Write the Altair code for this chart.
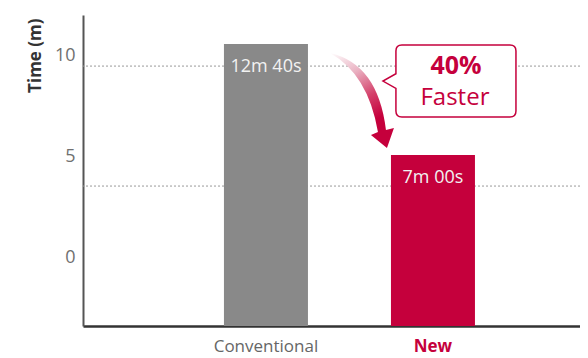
import altair as alt
import pandas as pd

categories = ["Conventional", "New"]
bar_tops = [10.6, 5.1]
bar_labels = ["12m 40s", "7m 00s"]
bar_colors = ["#898989", "#c5003c"]
y_ticks = [0, 5, 10]
y_domain = [-3.37, 12.03]
grid_values = [9.5, 3.56]
callout_texts = ["40%", "Faster"]
callout_text_y = [9.5, 7.92]
arrow_y = [7.82]
callout_box_y = [8.76]

FONT = "Open Sans"
RED = "#c5003c"

ARROW_PATH = ("M -0.6 -0.94 Q 0.36 -0.72 0.52 0.6 L 0.68 0.56 L 0.54 0.96 "
              "L 0.22 0.7 L 0.36 0.64 Q 0.16 -0.52 -0.6 -0.94 Z")
BOX_PATH = ("M -0.715 -0.541 L 0.91 -0.541 Q 1 -0.541 1 -0.451 L 1 0.451 "
            "Q 1 0.541 0.91 0.541 L -0.715 0.541 Q -0.805 0.541 -0.805 0.451 "
            "L -0.805 0.11 L -1 0 L -0.805 -0.11 L -0.805 -0.451 "
            "Q -0.805 -0.541 -0.715 -0.541 Z")

bars_df = pd.DataFrame({"cat": categories, "top": bar_tops, "label": bar_labels})
bars_df["base"] = y_domain[0]
grid_df = pd.DataFrame({"cat": ["Conventional"] * len(grid_values), "v": grid_values})
arrow_df = pd.DataFrame({"cat": ["Conventional"], "y": arrow_y})
box_df = pd.DataFrame({"cat": ["New"], "y": callout_box_y})
ct1 = pd.DataFrame({"cat": ["New"], "y": [callout_text_y[0]], "t": [callout_texts[0]]})
ct2 = pd.DataFrame({"cat": ["New"], "y": [callout_text_y[1]], "t": [callout_texts[1]]})

xscale = alt.Scale(domain=categories, paddingInner=0.497, paddingOuter=0.7365, align=0.573)
yscale = alt.Scale(domain=y_domain, nice=False, zero=False)

x_axis = alt.Axis(
    title=None, domain=True, domainColor="#333333", domainWidth=2.5, ticks=False,
    grid=False, labelPadding=12, labelFontSize=17, labelFont=FONT, labelAngle=0,
    labelColor={"condition": {"test": "datum.value == 'New'", "value": RED}, "value": "#666666"},
    labelFontWeight={"condition": {"test": "datum.value == 'New'", "value": "bold"}, "value": "normal"},
)
y_axis = alt.Axis(
    values=y_ticks, title="Time (m)", grid=False, ticks=False,
    domainColor="#555555", domainWidth=2, labelFont=FONT, labelFontSize=18,
    labelColor="#707070", labelPadding=8, titleFont=FONT, titleFontSize=17,
    titleFontWeight="bold", titleColor="#333333", titleAngle=270, titleX=-48,
    titleY=3, titleAlign="right", titleBaseline="middle",
)


def X():
    return alt.X("cat:N", scale=xscale, axis=x_axis, sort=categories)


def Y(field):
    return alt.Y(field, scale=yscale, axis=y_axis)


grid = alt.Chart(grid_df).mark_rule(color="#9a9a9a", strokeDash=[2, 2], strokeWidth=1).encode(
    y=Y("v:Q")
)

bars = alt.Chart(bars_df).mark_bar(size=84).encode(
    x=X(),
    y=Y("top:Q"),
    y2="base:Q",
    color=alt.Color("cat:N", scale=alt.Scale(domain=categories, range=bar_colors), legend=None),
)

bar_text = alt.Chart(bars_df).mark_text(dy=23, color="#f2f2f2", fontSize=18, font=FONT).encode(
    x=X(),
    y=Y("top:Q"),
    text="label:N",
)

grad = alt.Gradient(
    gradient="linear",
    stops=[
        alt.GradientStop(color="#ffffff", offset=0),
        alt.GradientStop(color="#eab3c3", offset=0.3),
        alt.GradientStop(color="#d4406a", offset=0.6),
        alt.GradientStop(color=RED, offset=0.85),
    ],
    x1=0, y1=0, x2=0.4, y2=1,
)

arrow = alt.Chart(arrow_df).mark_point(
    shape=ARROW_PATH, size=10000, filled=True, fill=grad, strokeWidth=0, opacity=1, xOffset=94
).encode(x=X(), y=Y("y:Q"))

box = alt.Chart(box_df).mark_point(
    shape=BOX_PATH, size=17689, filled=True, fill="white", stroke=RED, strokeWidth=1.5,
    opacity=1, xOffset=16.5
).encode(x=X(), y=Y("y:Q"))

t1 = alt.Chart(ct1).mark_text(
    color=RED, fontSize=25, fontWeight="bold", font=FONT, xOffset=23
).encode(x=X(), y=Y("y:Q"), text="t:N")
t2 = alt.Chart(ct2).mark_text(
    color=RED, fontSize=24, font=FONT, xOffset=22
).encode(x=X(), y=Y("y:Q"), text="t:N")

chart = alt.layer(grid, bars, bar_text, arrow, box, t1, t2).properties(
    width=497, height=311,
    padding={"left": 75, "top": 7, "right": 0, "bottom": 30},
    autosize=alt.AutoSizeParams(type="none"),
    background="white",
).configure_view(stroke=None)

chart.save("out.html", embed_options={"renderer": "svg", "actions": False})
